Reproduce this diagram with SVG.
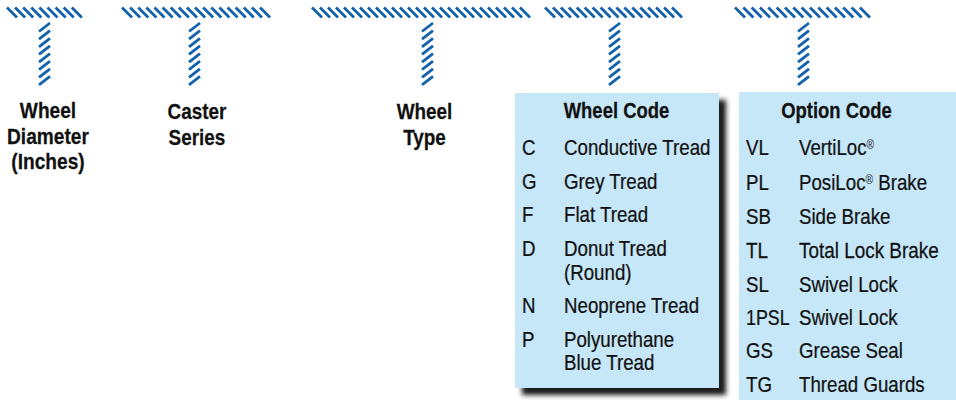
<svg xmlns="http://www.w3.org/2000/svg" width="956" height="400" viewBox="0 0 956 400">
<defs>
<filter id="shadow" x="-10%" y="-10%" width="130%" height="130%">
<feGaussianBlur in="SourceAlpha" stdDeviation="2.5"/>
<feOffset dx="7" dy="7" result="b"/>
<feFlood flood-color="#1a1a1a" flood-opacity="1"/>
<feComposite in2="b" operator="in"/>
<feMerge><feMergeNode/><feMergeNode in="SourceGraphic"/></feMerge>
</filter>
</defs>
<style>
.hatch{fill:none;stroke:#1462ab;stroke-width:2.8}
.box{fill:#c6e7f8;filter:url(#shadow)}
text{font-family:"Liberation Sans",Arial,sans-serif;font-size:22px;fill:#111;stroke:#111;stroke-width:0.25}
.b{font-weight:700}
.m{text-anchor:middle}
.sup{font-size:12px;stroke-width:0}
</style>
<rect width="956" height="400" fill="#fff"/>
<g id="connectors">
<path class="hatch" d="M7,7.5l10,10m-1.9,-10l10,10m-1.9,-10l10,10m-1.9,-10l10,10m-1.9,-10l10,10m-1.9,-10l10,10m-1.9,-10l10,10m-1.9,-10l10,10m-1.9,-10l10,10"/>
<path class="hatch" d="M39,31.5l11,-8.5m-11,16.14l11,-8.5m-11,16.14l11,-8.5m-11,16.14l11,-8.5m-11,16.14l11,-8.5m-11,16.14l11,-8.5m-11,16.14l11,-8.5m-11,16.14l11,-8.5"/>
<path class="hatch" d="M122,7.5l10,10m-1.88,-10l10,10m-1.88,-10l10,10m-1.88,-10l10,10m-1.88,-10l10,10m-1.88,-10l10,10m-1.88,-10l10,10m-1.88,-10l10,10m-1.88,-10l10,10m-1.88,-10l10,10m-1.88,-10l10,10m-1.88,-10l10,10m-1.88,-10l10,10m-1.88,-10l10,10m-1.88,-10l10,10m-1.88,-10l10,10m-1.88,-10l10,10m-1.88,-10l10,10"/>
<path class="hatch" d="M189,31.5l11,-8.5m-11,16.14l11,-8.5m-11,16.14l11,-8.5m-11,16.14l11,-8.5m-11,16.14l11,-8.5m-11,16.14l11,-8.5m-11,16.14l11,-8.5m-11,16.14l11,-8.5"/>
<path class="hatch" d="M312,7.5l10,10m-2,-10l10,10m-2,-10l10,10m-2,-10l10,10m-2,-10l10,10m-2,-10l10,10m-2,-10l10,10m-2,-10l10,10m-2,-10l10,10m-2,-10l10,10m-2,-10l10,10m-2,-10l10,10m-2,-10l10,10m-2,-10l10,10m-2,-10l10,10m-2,-10l10,10m-2,-10l10,10m-2,-10l10,10m-2,-10l10,10m-2,-10l10,10m-2,-10l10,10m-2,-10l10,10m-2,-10l10,10m-2,-10l10,10m-2,-10l10,10m-2,-10l10,10m-2,-10l10,10"/>
<path class="hatch" d="M422,31.5l11,-8.5m-11,16.14l11,-8.5m-11,16.14l11,-8.5m-11,16.14l11,-8.5m-11,16.14l11,-8.5m-11,16.14l11,-8.5m-11,16.14l11,-8.5m-11,16.14l11,-8.5"/>
<path class="hatch" d="M545,7.5l10,10m-2.06,-10l10,10m-2.06,-10l10,10m-2.06,-10l10,10m-2.06,-10l10,10m-2.06,-10l10,10m-2.06,-10l10,10m-2.06,-10l10,10m-2.06,-10l10,10m-2.06,-10l10,10m-2.06,-10l10,10m-2.06,-10l10,10m-2.06,-10l10,10m-2.06,-10l10,10m-2.06,-10l10,10m-2.06,-10l10,10m-2.06,-10l10,10"/>
<path class="hatch" d="M609,31.5l11,-8.5m-11,16.14l11,-8.5m-11,16.14l11,-8.5m-11,16.14l11,-8.5m-11,16.14l11,-8.5m-11,16.14l11,-8.5m-11,16.14l11,-8.5m-11,16.14l11,-8.5"/>
<path class="hatch" d="M735,7.5l10,10m-1.67,-10l10,10m-1.67,-10l10,10m-1.67,-10l10,10m-1.67,-10l10,10m-1.67,-10l10,10m-1.67,-10l10,10m-1.67,-10l10,10m-1.67,-10l10,10m-1.67,-10l10,10m-1.67,-10l10,10m-1.67,-10l10,10m-1.67,-10l10,10m-1.67,-10l10,10m-1.67,-10l10,10m-1.67,-10l10,10"/>
<path class="hatch" d="M798,31.5l11,-8.5m-11,16.14l11,-8.5m-11,16.14l11,-8.5m-11,16.14l11,-8.5m-11,16.14l11,-8.5m-11,16.14l11,-8.5m-11,16.14l11,-8.5m-11,16.14l11,-8.5"/>
</g>
<g id="wheel-diameter">
<text class="b m" transform="translate(48,118) scale(0.87,1)">Wheel</text>
<text class="b m" transform="translate(48,144) scale(0.87,1)">Diameter</text>
<text class="b m" transform="translate(48,169) scale(0.87,1)">(Inches)</text>
</g>
<g id="caster-series">
<text class="b m" transform="translate(197,119) scale(0.86,1)">Caster</text>
<text class="b m" transform="translate(197,145) scale(0.86,1)">Series</text>
</g>
<g id="wheel-type">
<text class="b m" transform="translate(424.5,119) scale(0.86,1)">Wheel</text>
<text class="b m" transform="translate(424.5,145) scale(0.86,1)">Type</text>
</g>
<g id="wheel-code">
<rect class="box" x="515" y="93" width="204" height="295"/>
<text class="b m" transform="translate(616.5,118) scale(0.84,1)">Wheel Code</text>
<text transform="translate(522,155) scale(0.85,1)">C</text>
<text transform="translate(564,155) scale(0.85,1)">Conductive Tread</text>
<text transform="translate(522,189) scale(0.85,1)">G</text>
<text transform="translate(564,189) scale(0.85,1)">Grey Tread</text>
<text transform="translate(522,222) scale(0.85,1)">F</text>
<text transform="translate(564,222) scale(0.85,1)">Flat Tread</text>
<text transform="translate(522,256) scale(0.85,1)">D</text>
<text transform="translate(564,256) scale(0.85,1)">Donut Tread</text>
<text transform="translate(564,280) scale(0.85,1)">(Round)</text>
<text transform="translate(522,313) scale(0.85,1)">N</text>
<text transform="translate(564,313) scale(0.85,1)">Neoprene Tread</text>
<text transform="translate(522,347) scale(0.85,1)">P</text>
<text transform="translate(564,347) scale(0.85,1)">Polyurethane</text>
<text transform="translate(564,370) scale(0.85,1)">Blue Tread</text>
</g>
<g id="option-code">
<rect class="box" x="739" y="92" width="230" height="320"/>
<text class="b m" transform="translate(836.5,118) scale(0.84,1)">Option Code</text>
<text transform="translate(746,155) scale(0.85,1)">VL</text>
<text transform="translate(799,155) scale(0.85,1)">VertiLoc<tspan class="sup" dy="-6">®</tspan></text>
<text transform="translate(746,190) scale(0.85,1)">PL</text>
<text transform="translate(799,190) scale(0.85,1)">PosiLoc<tspan class="sup" dy="-6">®</tspan><tspan dy="6"> Brake</tspan></text>
<text transform="translate(746,224) scale(0.85,1)">SB</text>
<text transform="translate(799,224) scale(0.85,1)">Side Brake</text>
<text transform="translate(746,258) scale(0.86,1)">TL</text>
<text transform="translate(799,258) scale(0.86,1)">Total Lock Brake</text>
<text transform="translate(746,292) scale(0.85,1)">SL</text>
<text transform="translate(799,292) scale(0.85,1)">Swivel Lock</text>
<text transform="translate(746,325) scale(0.81,1)">1PSL</text>
<text transform="translate(799,325) scale(0.85,1)">Swivel Lock</text>
<text transform="translate(746,358) scale(0.85,1)">GS</text>
<text transform="translate(799,358) scale(0.85,1)">Grease Seal</text>
<text transform="translate(746,392) scale(0.85,1)">TG</text>
<text transform="translate(799,392) scale(0.85,1)">Thread Guards</text>
</g>
</svg>
